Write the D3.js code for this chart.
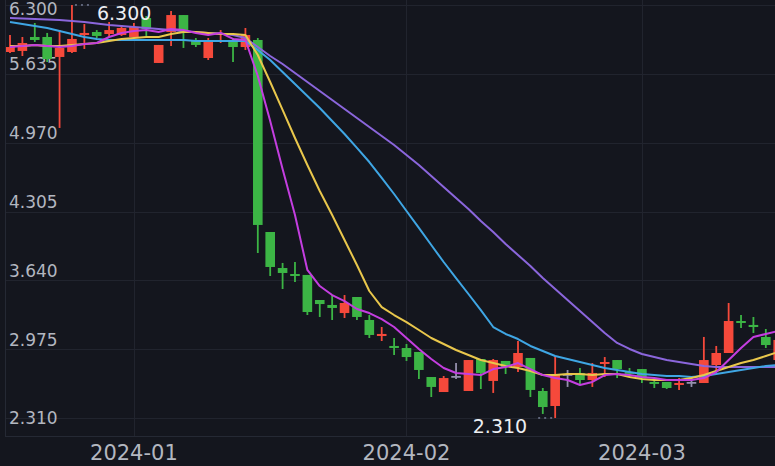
<!DOCTYPE html>
<html><head><meta charset="utf-8">
<script src="https://cdn.jsdelivr.net/npm/d3@7"></script>
<style>html,body{margin:0;padding:0;background:#14161e;overflow:hidden}svg{display:block}</style>
</head><body><svg id="c" width="775" height="466"></svg>
<script>
const openV = [5.846,5.856,5.991,5.991,5.798,5.846,6.010,6.039,6.020,6.010,
 5.991,6.174,5.740,6.039,6.203,5.962,5.788,6.010,5.962,5.894,
 5.962,4.107,3.759,3.701,3.692,3.450,3.402,3.324,3.479,3.257,
 3.102,3.006,2.986,2.948,2.706,2.561,2.716,2.571,2.880,2.668,
 2.861,2.803,2.890,2.571,2.426,2.735,2.745,2.677,2.832,2.870,
 2.754,2.783,2.658,2.658,2.629,2.658,2.648,2.822,2.938,3.247,
 3.209,3.093,2.870];
const closeV = [5.894,5.933,5.962,5.778,5.885,5.972,6.030,6.001,6.058,6.078,
 6.088,6.068,5.914,6.203,6.039,5.914,5.962,6.030,5.894,6.010,
 4.175,3.769,3.711,3.682,3.334,3.411,3.373,3.421,3.286,3.112,
 3.122,2.986,2.899,2.774,2.610,2.696,2.716,2.870,2.745,2.870,
 2.803,2.938,2.581,2.416,2.735,2.735,2.677,2.745,2.851,2.783,
 2.745,2.696,2.639,2.600,2.648,2.658,2.870,2.938,3.247,3.228,
 3.189,3.015,3.064];
const highV = [6.010,5.991,6.126,6.030,6.058,6.300,6.116,6.058,6.136,6.107,
 6.126,6.194,5.914,6.242,6.203,5.981,5.981,6.058,5.981,6.078,
 5.981,4.107,3.808,3.817,3.692,3.450,3.498,3.498,3.479,3.305,
 3.189,3.083,3.025,2.948,2.706,2.716,2.841,2.870,2.880,2.880,
 2.861,3.054,2.890,2.600,2.909,2.774,2.793,2.841,2.899,2.870,
 2.793,2.783,2.696,2.658,2.696,2.706,3.093,3.006,3.421,3.305,
 3.286,3.170,3.112];
const lowV = [5.836,5.807,5.943,5.749,5.112,5.836,5.875,5.981,5.991,6.001,
 5.991,6.001,5.740,5.904,5.885,5.894,5.769,5.933,5.749,5.865,
 3.904,3.682,3.556,3.624,3.305,3.286,3.257,3.276,3.257,3.083,
 3.054,2.919,2.861,2.687,2.513,2.561,2.687,2.571,2.590,2.552,
 2.735,2.754,2.513,2.349,2.310,2.610,2.629,2.610,2.706,2.696,
 2.706,2.648,2.600,2.590,2.581,2.610,2.648,2.754,2.938,3.180,
 3.131,2.986,2.851];
const ma5 = [5.894,5.904,5.914,5.904,5.894,5.904,5.923,5.933,5.991,6.030,
 6.049,6.058,6.039,6.068,6.058,6.030,6.010,6.030,5.972,5.962,
 5.614,5.179,4.716,4.271,3.740,3.585,3.498,3.440,3.363,3.324,
 3.266,3.189,3.083,2.977,2.880,2.793,2.745,2.735,2.725,2.783,
 2.803,2.841,2.783,2.725,2.696,2.677,2.629,2.658,2.725,2.735,
 2.725,2.706,2.696,2.677,2.677,2.677,2.696,2.754,2.870,2.986,
 3.093,3.122,3.151];
const ma10 = [5.904,5.904,5.914,5.904,5.904,5.914,5.923,5.933,5.952,5.972,
 5.981,5.991,5.991,6.020,6.039,6.039,6.030,6.020,6.020,6.010,
 5.817,5.556,5.286,5.015,4.754,4.503,4.271,4.030,3.788,3.537,
 3.382,3.305,3.237,3.160,3.083,3.025,2.967,2.919,2.870,2.841,
 2.812,2.793,2.764,2.725,2.725,2.735,2.735,2.725,2.735,2.735,
 2.706,2.687,2.677,2.677,2.677,2.696,2.725,2.764,2.803,2.841,
 2.870,2.909,2.948];
const ma20 = [6.136,6.116,6.097,6.078,6.049,6.020,5.991,5.972,5.962,5.962,
 5.962,5.962,5.962,5.962,5.962,5.952,5.952,5.952,5.952,5.952,
 5.865,5.769,5.653,5.537,5.421,5.305,5.179,5.054,4.919,4.783,
 4.629,4.474,4.310,4.146,3.981,3.817,3.662,3.508,3.353,3.189,
 3.122,3.073,3.006,2.957,2.909,2.880,2.851,2.822,2.793,2.774,
 2.754,2.735,2.725,2.716,2.716,2.706,2.716,2.735,2.754,2.774,
 2.793,2.812,2.822];
const ma30 = [6.174,6.170,6.165,6.160,6.155,6.145,6.136,6.121,6.107,6.097,
 6.088,6.078,6.068,6.058,6.049,6.039,6.030,6.025,6.010,5.981,
 5.894,5.807,5.730,5.643,5.556,5.469,5.382,5.295,5.208,5.121,
 5.034,4.948,4.851,4.754,4.648,4.542,4.435,4.329,4.213,4.107,
 3.991,3.885,3.779,3.662,3.556,3.450,3.344,3.237,3.131,3.035,
 2.977,2.928,2.899,2.870,2.851,2.832,2.812,2.803,2.803,2.803,
 2.803,2.803,2.803];
const monthLabels = ["2024-01","2024-02","2024-03"];
const monthIndex = [10, 32, 51];
const yTicks = [6.300, 5.635, 4.970, 4.305, 3.640, 2.975, 2.310];

const W = 775, H = 466;
const plot = {left: 5, right: 775, top: 0, bottom: 436};
const svg = d3.select("#c");
svg.append("rect").attr("width", W).attr("height", H).attr("fill", "#14161e");

const n = closeV.length;
const x = d3.scaleLinear().domain([0, n - 1]).range([10, 778.2]);
const y = d3.scaleLinear().domain([2.310, 6.300]).range([418, 5]);

const gridColor = "#21242e";
const g = svg.append("g");
g.selectAll("line.h").data(yTicks).join("line")
  .attr("x1", plot.left).attr("x2", plot.right)
  .attr("y1", d => Math.round(y(d)) + 0.5).attr("y2", d => Math.round(y(d)) + 0.5)
  .attr("stroke", gridColor).attr("stroke-width", 1);
g.selectAll("line.v").data(monthIndex).join("line")
  .attr("x1", d => Math.round(x(d)) + 0.5).attr("x2", d => Math.round(x(d)) + 0.5)
  .attr("y1", plot.top).attr("y2", plot.bottom)
  .attr("stroke", gridColor).attr("stroke-width", 1);
g.append("line").attr("x1", plot.left + 0.5).attr("x2", plot.left + 0.5).attr("y1", 0).attr("y2", plot.bottom)
  .attr("stroke", "#252934");
g.append("line").attr("x1", plot.left).attr("x2", plot.right).attr("y1", plot.bottom + 0.5).attr("y2", plot.bottom + 0.5)
  .attr("stroke", "#252934");

// y labels
svg.append("g").selectAll("text").data(yTicks).join("text")
  .attr("x", 9)
  .attr("y", (d, i) => i === 0 ? y(d) + 10 : (i === yTicks.length - 1 ? y(d) + 6 : y(d) - 3.5))
  .attr("fill", "#b3b7c0").attr("font-family", "DejaVu Sans").attr("font-size", 17)
  .text(d => d3.format(".3f")(d));

// x labels
svg.append("g").selectAll("text").data(monthIndex).join("text")
  .attr("x", d => x(d)).attr("y", 460).attr("text-anchor", "middle")
  .attr("fill", "#b3b7c0").attr("font-family", "DejaVu Sans").attr("font-size", 21)
  .text((d, i) => monthLabels[i]);

svg.append("clipPath").attr("id", "clip").append("rect")
  .attr("x", plot.left + 1).attr("y", plot.top).attr("width", plot.right - plot.left).attr("height", plot.bottom - plot.top);
const pg = svg.append("g").attr("clip-path", "url(#clip)");

const RED = "#f5493b", GREEN = "#3cb545", GRAY = "#9490ad";
const data = d3.range(n).map(i => ({i, o: openV[i], c: closeV[i], h: highV[i], l: lowV[i]}));
const col = d => d.c > d.o ? RED : (d.c < d.o ? GREEN : GRAY);

const cg = pg.append("g");
cg.selectAll("line").data(data).join("line")
  .attr("x1", d => x(d.i)).attr("x2", d => x(d.i))
  .attr("y1", d => y(d.h)).attr("y2", d => y(d.l))
  .attr("stroke", col).attr("stroke-width", 1.8);
cg.selectAll("rect").data(data).join("rect")
  .attr("x", d => x(d.i) - 4.8).attr("width", 9.6)
  .attr("y", d => y(Math.max(d.o, d.c)))
  .attr("height", d => Math.max(1.8, Math.abs(y(d.o) - y(d.c))))
  .attr("fill", col);

const lines = [
  {v: ma30, color: "#8b66dc"},
  {v: ma20, color: "#3fa6e4"},
  {v: ma10, color: "#e9c74c"},
  {v: ma5, color: "#c43ee0"}
];
const lineGen = d3.line().x((d, i) => x(i)).y(d => y(d));
pg.selectAll("path.ma").data(lines).join("path")
  .attr("d", d => lineGen(d.v)).attr("fill", "none")
  .attr("stroke", d => d.color).attr("stroke-width", 2)
  .attr("stroke-linejoin", "round");

const maxI = d3.maxIndex(highV), minI = d3.minIndex(lowV);
const ann = svg.append("g");
const mx = x(maxI), my = y(highV[maxI]);
ann.append("line").attr("x1", mx + 3).attr("x2", mx + 20).attr("y1", my).attr("y2", my)
  .attr("stroke", "#5d6378").attr("stroke-width", 2).attr("stroke-dasharray", "2,4");
ann.append("text").attr("x", mx + 25).attr("y", my + 15)
  .attr("fill", "#eceef2").attr("font-family", "DejaVu Sans").attr("font-size", 19)
  .text(d3.format(".3f")(highV[maxI]));
const nx = x(minI), ny = y(lowV[minI]);
ann.append("line").attr("x1", nx - 3).attr("x2", nx - 20).attr("y1", ny).attr("y2", ny)
  .attr("stroke", "#5d6378").attr("stroke-width", 2).attr("stroke-dasharray", "2,4");
ann.append("text").attr("x", nx - 28).attr("y", ny + 15).attr("text-anchor", "end")
  .attr("fill", "#eceef2").attr("font-family", "DejaVu Sans").attr("font-size", 19)
  .text(d3.format(".3f")(lowV[minI]));
</script></body></html>
